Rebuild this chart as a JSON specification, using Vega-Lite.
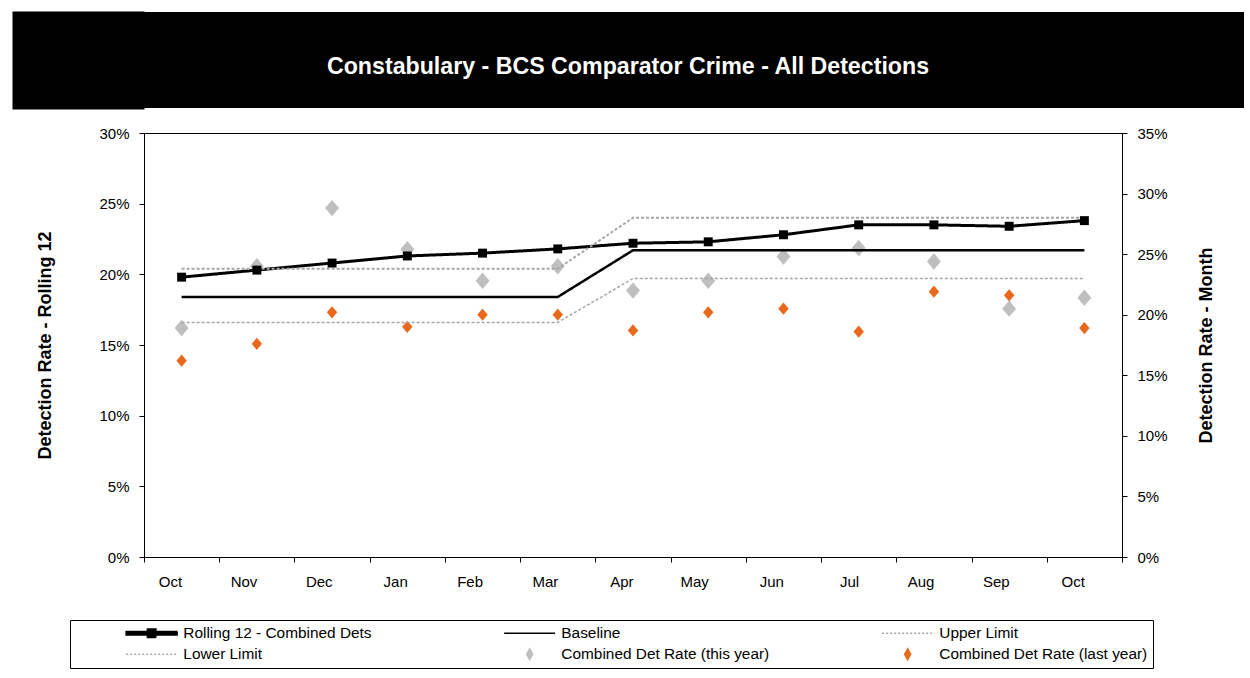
{
  "$schema": "https://vega.github.io/schema/vega-lite/v6.json",
  "background": "white",
  "padding": {"left": -37, "top": 11, "right": 5, "bottom": 5},
  "spacing": 16,
  "config": {
    "view": {"stroke": "black", "strokeWidth": 1},
    "axis": {
      "grid": false,
      "domainColor": "black",
      "tickColor": "black",
      "labelColor": "black",
      "titleColor": "black",
      "labelFont": "Liberation Sans",
      "labelFontSize": 15,
      "titleFont": "Liberation Sans",
      "titleFontSize": 18,
      "titleFontWeight": "bold",
      "tickSize": 5,
      "domainWidth": 1,
      "tickWidth": 1
    }
  },
  "vconcat": [
    {
      "width": 1100,
      "height": 96,
      "view": {"fill": "black", "stroke": null},
      "data": {"values": [{"t": "Constabulary - BCS Comparator Crime - All Detections"}]},
      "mark": {"type": "text", "color": "white", "font": "Liberation Sans", "fontWeight": "bold", "fontSize": 23.2, "baseline": "middle", "align": "center", "dx": -66, "dy": 7},
      "encoding": {
        "text": {"field": "t"},
        "y": {"field": "t", "type": "nominal", "axis": {"title": null, "labels": false, "domain": false, "ticks": true, "tickSize": 132, "tickWidth": 98, "tickColor": "black", "tickCap": "butt"}}
      }
    },
    {
      "width": 978,
      "height": 424,
      "data": {
        "values": [
          {"p": "Oct 09", "Rolling 12 - Combined Dets": 0.198, "Baseline": 0.184, "Upper Limit": 0.204, "Lower Limit": 0.166, "Combined Det Rate (this year)": 0.189, "Combined Det Rate (last year)": 0.162},
          {"p": "Nov 09", "Rolling 12 - Combined Dets": 0.203, "Baseline": 0.184, "Upper Limit": 0.204, "Lower Limit": 0.166, "Combined Det Rate (this year)": 0.240, "Combined Det Rate (last year)": 0.176},
          {"p": "Dec 09", "Rolling 12 - Combined Dets": 0.208, "Baseline": 0.184, "Upper Limit": 0.204, "Lower Limit": 0.166, "Combined Det Rate (this year)": 0.288, "Combined Det Rate (last year)": 0.202},
          {"p": "Jan 10", "Rolling 12 - Combined Dets": 0.213, "Baseline": 0.184, "Upper Limit": 0.204, "Lower Limit": 0.166, "Combined Det Rate (this year)": 0.254, "Combined Det Rate (last year)": 0.190},
          {"p": "Feb 10", "Rolling 12 - Combined Dets": 0.215, "Baseline": 0.184, "Upper Limit": 0.204, "Lower Limit": 0.166, "Combined Det Rate (this year)": 0.228, "Combined Det Rate (last year)": 0.200},
          {"p": "Mar 10", "Rolling 12 - Combined Dets": 0.218, "Baseline": 0.184, "Upper Limit": 0.204, "Lower Limit": 0.166, "Combined Det Rate (this year)": 0.240, "Combined Det Rate (last year)": 0.200},
          {"p": "Apr 10", "Rolling 12 - Combined Dets": 0.222, "Baseline": 0.217, "Upper Limit": 0.240, "Lower Limit": 0.197, "Combined Det Rate (this year)": 0.220, "Combined Det Rate (last year)": 0.187},
          {"p": "May 10", "Rolling 12 - Combined Dets": 0.223, "Baseline": 0.217, "Upper Limit": 0.240, "Lower Limit": 0.197, "Combined Det Rate (this year)": 0.228, "Combined Det Rate (last year)": 0.202},
          {"p": "Jun 10", "Rolling 12 - Combined Dets": 0.228, "Baseline": 0.217, "Upper Limit": 0.240, "Lower Limit": 0.197, "Combined Det Rate (this year)": 0.248, "Combined Det Rate (last year)": 0.205},
          {"p": "Jul 10", "Rolling 12 - Combined Dets": 0.235, "Baseline": 0.217, "Upper Limit": 0.240, "Lower Limit": 0.197, "Combined Det Rate (this year)": 0.255, "Combined Det Rate (last year)": 0.186},
          {"p": "Aug 10", "Rolling 12 - Combined Dets": 0.235, "Baseline": 0.217, "Upper Limit": 0.240, "Lower Limit": 0.197, "Combined Det Rate (this year)": 0.244, "Combined Det Rate (last year)": 0.219},
          {"p": "Sep 10", "Rolling 12 - Combined Dets": 0.234, "Baseline": 0.217, "Upper Limit": 0.240, "Lower Limit": 0.197, "Combined Det Rate (this year)": 0.205, "Combined Det Rate (last year)": 0.216},
          {"p": "Oct 10", "Rolling 12 - Combined Dets": 0.238, "Baseline": 0.217, "Upper Limit": 0.240, "Lower Limit": 0.197, "Combined Det Rate (this year)": 0.214, "Combined Det Rate (last year)": 0.189}
        ]
      },
      "layer": [
        {
          "transform": [{"fold": ["Combined Det Rate (this year)", "Combined Det Rate (last year)"], "as": ["series", "value"]}],
          "mark": {"type": "point", "filled": true, "opacity": 1, "shape": "M0,-1L0.85,0L0,1L-0.85,0Z"},
          "encoding": {
            "x": {"field": "p", "type": "ordinal", "sort": null},
            "y": {
              "field": "value", "type": "quantitative",
              "scale": {"domain": [0, 0.35], "nice": false},
              "axis": {
                "orient": "right",
                "values": [0, 0.05, 0.1, 0.15, 0.2, 0.25, 0.3, 0.35],
                "format": ".0%",
                "labelPadding": 10,
                "title": "Detection Rate - Month",
                "titleAngle": 270,
                "titleBaseline": "top",
                "titlePadding": 30
              }
            },
            "color": {"field": "series", "type": "nominal"},
            "size": {
              "field": "series", "type": "nominal",
              "scale": {"domain": ["Combined Det Rate (this year)", "Combined Det Rate (last year)"], "range": [270, 150]},
              "legend": null
            }
          }
        },
        {
          "layer": [
            {
              "transform": [{"fold": ["Rolling 12 - Combined Dets", "Baseline", "Upper Limit", "Lower Limit"], "as": ["series", "value"]}],
              "mark": {"type": "line", "strokeCap": "butt"},
              "encoding": {
                "x": {
                  "field": "p", "type": "ordinal", "sort": null,
                  "scale": {"type": "band", "paddingInner": 0, "paddingOuter": 0},
                  "axis": {
                    "title": null,
                    "labelAngle": 0,
                    "tickBand": "extent",
                    "labelPadding": 19,
                    "labelExpr": "datum.value ? substring(datum.value, 0, 3) : ''"
                  }
                },
                "y": {
                  "field": "value", "type": "quantitative",
                  "scale": {"domain": [0, 0.3], "nice": false},
                  "axis": {
                    "orient": "left",
                    "values": [0, 0.05, 0.1, 0.15, 0.2, 0.25, 0.3],
                    "format": ".0%",
                    "labelPadding": 10,
                    "title": "Detection Rate - Rolling 12",
                    "titlePadding": 44
                  }
                },
                "color": {
                  "field": "series", "type": "nominal",
                  "scale": {
                    "domain": ["Rolling 12 - Combined Dets", "Baseline", "Upper Limit", "Lower Limit", "Combined Det Rate (this year)", "Combined Det Rate (last year)"],
                    "range": ["#000000", "#000000", "#A6A6A6", "#A6A6A6", "#BFBFBF", "#E8691B"]
                  },
                  "legend": {
                    "title": " ",
                    "titleOrient": "left",
                    "titlePadding": 52.7,
                    "titleFont": "Liberation Sans",
                    "titleFontSize": 15.4,
                    "orient": "none",
                    "legendX": -74,
                    "legendY": 608,
                    "direction": "horizontal",
                    "columns": 3,
                    "gridAlign": "all",
                    "columnPadding": 109,
                    "rowPadding": 3.5,
                    "padding": 5,
                    "strokeColor": "black",
                    "fillColor": "white",
                    "labelFont": "Liberation Sans",
                    "labelFontSize": 15.4,
                    "labelColor": "black",
                    "labelLimit": 500,
                    "symbolSize": 100,
                    "symbolStrokeWidth": 1.5,
                    "symbolOffset": 16.25,
                    "labelOffset": 24,
                    "encode": {
                      "symbols": {
                        "update": {
                          "shape": {"signal": "datum.value === 'Rolling 12 - Combined Dets' ? 'M-5.1,-0.35H5.1V0.35H-5.1ZM-0.85,-0.85H0.85V0.85H-0.85Z' : (datum.value === 'Combined Det Rate (this year)' || datum.value === 'Combined Det Rate (last year)') ? 'M0,-1.1L0.6,0L0,1.1L-0.6,0Z' : 'M-5.1,0H5.1'"},
                          "fill": {"signal": "datum.value === 'Rolling 12 - Combined Dets' ? 'black' : datum.value === 'Combined Det Rate (this year)' ? '#BFBFBF' : datum.value === 'Combined Det Rate (last year)' ? '#E8691B' : 'transparent'"},
                          "stroke": {"signal": "datum.value === 'Baseline' ? 'black' : (datum.value === 'Upper Limit' || datum.value === 'Lower Limit') ? '#A6A6A6' : 'transparent'"},
                          "strokeDash": {"signal": "(datum.value === 'Upper Limit' || datum.value === 'Lower Limit') ? [2, 2] : [1, 0]"},
                          "opacity": {"value": 1}
                        }
                      }
                    }
                  }
                },
                "strokeWidth": {
                  "field": "series", "type": "nominal",
                  "scale": {"domain": ["Rolling 12 - Combined Dets", "Baseline", "Upper Limit", "Lower Limit"], "range": [3, 1.5, 1.2, 1.2]},
                  "legend": null
                },
                "strokeDash": {
                  "field": "series", "type": "nominal",
                  "scale": {"domain": ["Rolling 12 - Combined Dets", "Baseline", "Upper Limit", "Lower Limit"], "range": [[1, 0], [1, 0], [3, 2], [3, 2]]},
                  "legend": null
                }
              }
            },
            {
              "transform": [{"fold": ["Rolling 12 - Combined Dets"], "as": ["series", "value"]}],
              "mark": {"type": "point", "shape": "square", "filled": true, "color": "black", "size": 80, "opacity": 1},
              "encoding": {
                "x": {"field": "p", "type": "ordinal", "sort": null},
                "y": {"field": "value", "type": "quantitative"}
              }
            }
          ]
        }
      ],
      "resolve": {"scale": {"y": "independent"}}
    }
  ]
}
